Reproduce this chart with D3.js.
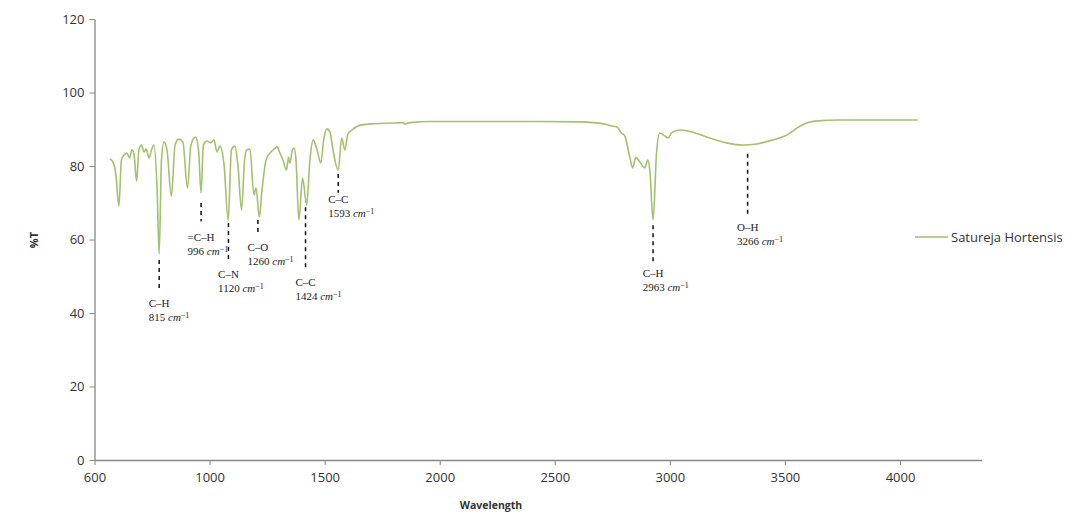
<!DOCTYPE html>
<html>
<head>
<meta charset="utf-8">
<script src="https://cdn.jsdelivr.net/npm/d3@7"></script>
<style>
  body { margin: 0; background: #fff; }
  svg { display: block; }
</style>
</head>
<body>
<svg id="chart" width="1072" height="519"></svg>
<script>
// IR spectrum - Satureja Hortensis
const wavenumber = [567, 580, 593, 606, 617, 628, 641, 652, 663, 672, 683, 693, 704, 715, 724, 737, 748, 758, 772, 781,
  791, 802, 815, 834, 850, 867, 884, 904, 919, 939, 952, 963, 973, 989, 1006, 1019, 1032, 1045, 1063, 1081,
  1095, 1110, 1123, 1139, 1152, 1162, 1175, 1193, 1202, 1216, 1228, 1245, 1262, 1280, 1293, 1306, 1319, 1334, 1343, 1349,
  1360, 1367, 1375, 1388, 1404, 1422, 1436, 1450, 1467, 1483, 1497, 1510, 1523, 1536, 1559, 1574, 1588, 1601, 1619, 1636,
  1662, 1718, 1805, 1840, 1849, 1871, 1957, 2174, 2435, 2609, 2718, 2748, 2770, 2790, 2804, 2826, 2838, 2852, 2870, 2891,
  2904, 2913, 2927, 2942, 2956, 2974, 2993, 3007, 3043, 3087, 3174, 3246, 3317, 3378, 3447, 3508, 3552, 3586, 3630, 3739, 4078];
const transmittance = [81.9, 81.1, 77.6, 69.1, 81.6, 82.9, 83.5, 82.2, 84.4, 83.0, 75.9, 84.4, 85.7, 83.8, 84.6, 82.2, 84.4, 85.7, 73.5, 56.1,
  81.6, 86.5, 84.4, 71.8, 85.7, 87.3, 86.5, 74.0, 85.7, 87.9, 84.4, 72.7, 85.7, 86.8, 86.3, 87.1, 83.8, 85.4, 80.3, 65.3,
  84.4, 85.4, 80.3, 68.0, 81.6, 84.4, 84.6, 72.1, 74.0, 66.1, 73.5, 81.6, 83.5, 84.6, 85.2, 83.5, 81.6, 78.9, 82.4, 80.8,
  84.4, 84.9, 82.2, 65.3, 76.7, 69.4, 81.6, 87.1, 84.4, 80.8, 87.6, 90.1, 89.3, 84.4, 78.9, 87.6, 84.4, 88.7, 89.8, 90.6,
  91.2, 91.5, 91.7, 91.8, 91.4, 91.8, 92.1, 92.1, 92.1, 92.0, 91.4, 90.9, 90.6, 89.0, 88.2, 82.4, 79.5, 82.4, 81.1, 79.5,
  81.6, 78.9, 65.3, 83.5, 89.0, 88.4, 87.6, 89.0, 89.8, 89.4, 87.6, 86.3, 85.7, 86.0, 87.1, 88.4, 90.3, 91.5, 92.2, 92.5, 92.5];

const xTickValues = [500, 1000, 1500, 2000, 2500, 3000, 3500, 4000];
const xTickLabels = ['600', '1000', '1500', '2000', '2500', '3000', '3500', '4000'];
const yTickValues = [0, 20, 40, 60, 80, 100, 120];

// peak annotations: bond, wavenumber text, line x, dashed line top/bottom (%T), first text line (%T)
const peakBonds = ['C–H', '=C–H', 'C–N', 'C–O', 'C–C', 'C–C', 'C–H', 'O–H'];
const peakLabels = ['815', '996', '1120', '1260', '1424', '1593', '2963', '3266'];
const peakX = [781, 963, 1082, 1210, 1417, 1559, 2927, 3338];
const peakTop = [54.4, 69.9, 64.5, 65.3, 68.8, 77.8, 63.9, 83.3];
const peakBottom = [46.3, 65.0, 53.9, 61.0, 52.2, 72.7, 53.6, 66.4];
const peakTextY = [42.7, 60.7, 50.6, 58.0, 48.4, 71.0, 50.9, 63.4];

const seriesName = 'Satureja Hortensis';
const lineColor = '#a3c16e';

const svg = d3.select('#chart');

const x = d3.scaleLinear().domain([500, 4355]).range([94.5, 981.7]);
const y = d3.scaleLinear().domain([0, 120]).range([460, 19]);

// Axes
const xAxis = svg.append('g')
  .attr('transform', `translate(0,${y(0)})`)
  .call(d3.axisBottom(x)
    .tickValues(xTickValues)
    .tickFormat((d, i) => xTickLabels[i])
    .tickSize(5)
    .tickSizeOuter(0));

const yAxis = svg.append('g')
  .attr('transform', `translate(${x(500)},0)`)
  .call(d3.axisLeft(y)
    .tickValues(yTickValues)
    .tickSize(5)
    .tickSizeOuter(0));

[xAxis, yAxis].forEach(g => {
  g.select('.domain').attr('stroke', '#868686').attr('stroke-width', 1.3);
  g.selectAll('.tick line').attr('stroke', '#868686');
  g.selectAll('.tick text')
    .attr('fill', '#333')
    .attr('font-family', 'Open Sans, Liberation Sans, sans-serif')
    .attr('font-size', '13px');
});
xAxis.selectAll('.tick text').attr('dy', '1.05em');
yAxis.selectAll('.tick text').attr('x', -10);

// Axis titles
svg.append('text')
  .attr('x', 491)
  .attr('y', 509)
  .attr('text-anchor', 'middle')
  .attr('font-family', 'Open Sans, Liberation Sans, sans-serif')
  .attr('font-size', '10.5px')
  .attr('font-weight', 'bold')
  .attr('fill', '#333')
  .text('Wavelength');

svg.append('text')
  .attr('transform', 'translate(38,240) rotate(-90)')
  .attr('text-anchor', 'middle')
  .attr('font-family', 'Open Sans, Liberation Sans, sans-serif')
  .attr('font-size', '11px')
  .attr('font-weight', 'bold')
  .attr('fill', '#333')
  .text('%T');

// Spectrum line
const data = wavenumber.map((w, i) => ({ w: w, t: transmittance[i] }));
const line = d3.line()
  .x(d => x(d.w))
  .y(d => y(d.t))
  .curve(d3.curveMonotoneX);

svg.append('path')
  .datum(data)
  .attr('fill', 'none')
  .attr('stroke', lineColor)
  .attr('stroke-width', 1.6)
  .attr('stroke-linejoin', 'round')
  .attr('d', line);

// Peak annotations
peakX.forEach((px, i) => {
  const cx = x(px);
  svg.append('line')
    .attr('x1', cx).attr('x2', cx)
    .attr('y1', y(peakTop[i])).attr('y2', y(peakBottom[i]))
    .attr('stroke', '#111')
    .attr('stroke-width', 1.5)
    .attr('stroke-dasharray', '4,4');

  const t1 = svg.append('text')
    .attr('x', cx)
    .attr('y', y(peakTextY[i]))
    .attr('dy', '0.35em')
    .attr('text-anchor', 'middle')
    .attr('font-family', 'Liberation Serif, serif')
    .attr('font-size', '11px')
    .attr('fill', '#222')
    .text(peakBonds[i]);

  const w1 = t1.node().getComputedTextLength();
  const t2 = svg.append('text')
    .attr('x', cx - w1 / 2)
    .attr('y', y(peakTextY[i]) + 14)
    .attr('dy', '0.35em')
    .attr('font-family', 'Liberation Serif, serif')
    .attr('font-size', '11px')
    .attr('fill', '#222');
  t2.append('tspan').text(peakLabels[i] + ' ');
  t2.append('tspan').attr('font-style', 'italic').text('cm');
  t2.append('tspan').attr('font-size', '8px').attr('dy', '-0.35em').text('−1');
});

// Legend
svg.append('line')
  .attr('x1', 915).attr('x2', 948)
  .attr('y1', 237).attr('y2', 237)
  .attr('stroke', lineColor)
  .attr('stroke-width', 1.6);

svg.append('text')
  .attr('x', 951)
  .attr('y', 237)
  .attr('dy', '0.35em')
  .attr('font-family', 'Open Sans, Liberation Sans, sans-serif')
  .attr('font-size', '13px')
  .attr('fill', '#333')
  .text(seriesName);
</script>
</body>
</html>
